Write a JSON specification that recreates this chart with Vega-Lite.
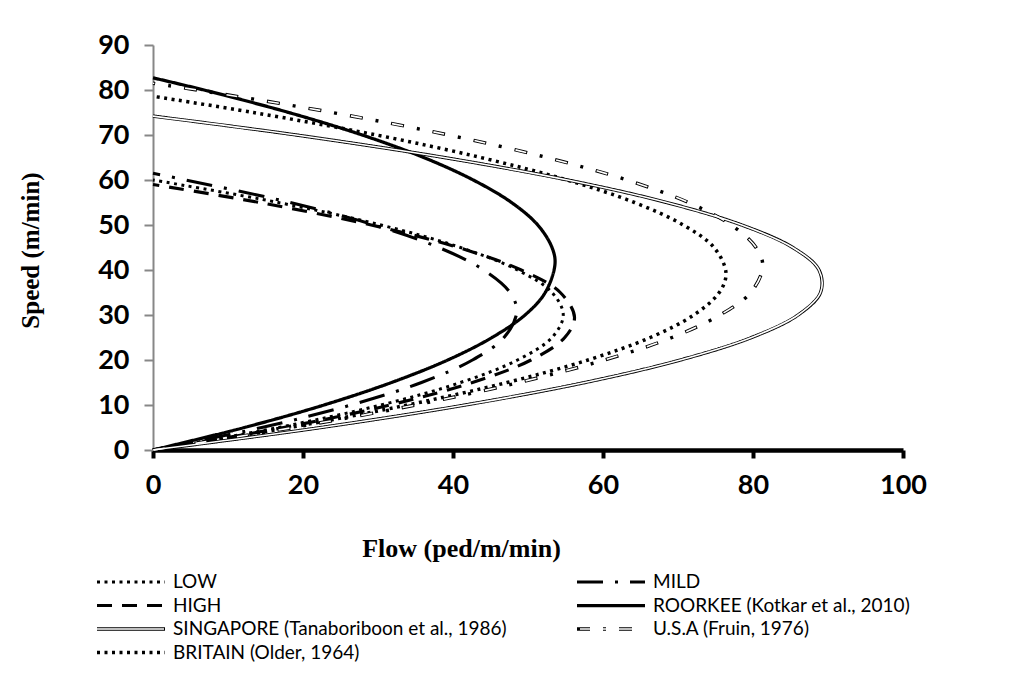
{
  "$schema": "https://vega.github.io/schema/vega-lite/v6.json",
  "width": 750,
  "height": 405,
  "autosize": {"type": "none"},
  "padding": {"left": 153, "top": 45, "right": 107, "bottom": 223},
  "background": "white",
  "config": {"view": {"stroke": null}},
  "data": {"values": [
    {"series": "LOW", "flow": 0, "speed": 0},
    {"series": "LOW", "flow": 16.7, "speed": 5},
    {"series": "LOW", "flow": 30.4, "speed": 10},
    {"series": "LOW", "flow": 41.0, "speed": 15},
    {"series": "LOW", "flow": 48.6, "speed": 20},
    {"series": "LOW", "flow": 53.2, "speed": 25},
    {"series": "LOW", "flow": 54.7, "speed": 30},
    {"series": "LOW", "flow": 53.2, "speed": 35},
    {"series": "LOW", "flow": 48.6, "speed": 40},
    {"series": "LOW", "flow": 41.0, "speed": 45},
    {"series": "LOW", "flow": 30.4, "speed": 50},
    {"series": "LOW", "flow": 16.7, "speed": 55},
    {"series": "LOW", "flow": 0, "speed": 60},
    {"series": "MILD", "flow": 0, "speed": 0},
    {"series": "MILD", "flow": 14.5, "speed": 5},
    {"series": "MILD", "flow": 26.4, "speed": 10},
    {"series": "MILD", "flow": 35.8, "speed": 15},
    {"series": "MILD", "flow": 42.6, "speed": 20},
    {"series": "MILD", "flow": 46.8, "speed": 25},
    {"series": "MILD", "flow": 48.5, "speed": 30.75},
    {"series": "MILD", "flow": 47.6, "speed": 35},
    {"series": "MILD", "flow": 44.1, "speed": 40},
    {"series": "MILD", "flow": 38.1, "speed": 45},
    {"series": "MILD", "flow": 29.5, "speed": 50},
    {"series": "MILD", "flow": 18.3, "speed": 55},
    {"series": "MILD", "flow": 0, "speed": 61.5},
    {"series": "HIGH", "flow": 0, "speed": 0},
    {"series": "HIGH", "flow": 17.4, "speed": 5},
    {"series": "HIGH", "flow": 31.6, "speed": 10},
    {"series": "HIGH", "flow": 42.6, "speed": 15},
    {"series": "HIGH", "flow": 50.4, "speed": 20},
    {"series": "HIGH", "flow": 54.9, "speed": 25},
    {"series": "HIGH", "flow": 56.2, "speed": 29.5},
    {"series": "HIGH", "flow": 54.3, "speed": 35},
    {"series": "HIGH", "flow": 49.1, "speed": 40},
    {"series": "HIGH", "flow": 40.7, "speed": 45},
    {"series": "HIGH", "flow": 29.1, "speed": 50},
    {"series": "HIGH", "flow": 14.2, "speed": 55},
    {"series": "HIGH", "flow": 0, "speed": 59},
    {"series": "ROORKEE (Kotkar et al., 2010)", "flow": 0, "speed": 0},
    {"series": "ROORKEE (Kotkar et al., 2010)", "flow": 12.2, "speed": 5},
    {"series": "ROORKEE (Kotkar et al., 2010)", "flow": 22.8, "speed": 10},
    {"series": "ROORKEE (Kotkar et al., 2010)", "flow": 31.8, "speed": 15},
    {"series": "ROORKEE (Kotkar et al., 2010)", "flow": 39.3, "speed": 20},
    {"series": "ROORKEE (Kotkar et al., 2010)", "flow": 45.2, "speed": 25},
    {"series": "ROORKEE (Kotkar et al., 2010)", "flow": 49.6, "speed": 30},
    {"series": "ROORKEE (Kotkar et al., 2010)", "flow": 52.3, "speed": 35},
    {"series": "ROORKEE (Kotkar et al., 2010)", "flow": 53.6, "speed": 41.35},
    {"series": "ROORKEE (Kotkar et al., 2010)", "flow": 53.2, "speed": 45},
    {"series": "ROORKEE (Kotkar et al., 2010)", "flow": 51.3, "speed": 50},
    {"series": "ROORKEE (Kotkar et al., 2010)", "flow": 47.8, "speed": 55},
    {"series": "ROORKEE (Kotkar et al., 2010)", "flow": 42.7, "speed": 60},
    {"series": "ROORKEE (Kotkar et al., 2010)", "flow": 36.1, "speed": 65},
    {"series": "ROORKEE (Kotkar et al., 2010)", "flow": 27.9, "speed": 70},
    {"series": "ROORKEE (Kotkar et al., 2010)", "flow": 18.1, "speed": 75},
    {"series": "ROORKEE (Kotkar et al., 2010)", "flow": 6.8, "speed": 80},
    {"series": "ROORKEE (Kotkar et al., 2010)", "flow": 0, "speed": 82.7},
    {"series": "SINGAPORE (Tanaboriboon et al., 1986)", "flow": 0, "speed": 0},
    {"series": "SINGAPORE (Tanaboriboon et al., 1986)", "flow": 22.4, "speed": 5},
    {"series": "SINGAPORE (Tanaboriboon et al., 1986)", "flow": 41.6, "speed": 10},
    {"series": "SINGAPORE (Tanaboriboon et al., 1986)", "flow": 57.6, "speed": 15},
    {"series": "SINGAPORE (Tanaboriboon et al., 1986)", "flow": 70.3, "speed": 20},
    {"series": "SINGAPORE (Tanaboriboon et al., 1986)", "flow": 79.8, "speed": 25},
    {"series": "SINGAPORE (Tanaboriboon et al., 1986)", "flow": 86.0, "speed": 30},
    {"series": "SINGAPORE (Tanaboriboon et al., 1986)", "flow": 89.0, "speed": 35},
    {"series": "SINGAPORE (Tanaboriboon et al., 1986)", "flow": 88.8, "speed": 40},
    {"series": "SINGAPORE (Tanaboriboon et al., 1986)", "flow": 85.3, "speed": 45},
    {"series": "SINGAPORE (Tanaboriboon et al., 1986)", "flow": 78.5, "speed": 50},
    {"series": "SINGAPORE (Tanaboriboon et al., 1986)", "flow": 68.5, "speed": 55},
    {"series": "SINGAPORE (Tanaboriboon et al., 1986)", "flow": 55.3, "speed": 60},
    {"series": "SINGAPORE (Tanaboriboon et al., 1986)", "flow": 38.8, "speed": 65},
    {"series": "SINGAPORE (Tanaboriboon et al., 1986)", "flow": 19.1, "speed": 70},
    {"series": "SINGAPORE (Tanaboriboon et al., 1986)", "flow": 0, "speed": 74.2},
    {"series": "U.S.A (Fruin, 1976)", "flow": 0, "speed": 0},
    {"series": "U.S.A (Fruin, 1976)", "flow": 18.7, "speed": 5},
    {"series": "U.S.A (Fruin, 1976)", "flow": 35.0, "speed": 10},
    {"series": "U.S.A (Fruin, 1976)", "flow": 48.8, "speed": 15},
    {"series": "U.S.A (Fruin, 1976)", "flow": 60.2, "speed": 20},
    {"series": "U.S.A (Fruin, 1976)", "flow": 69.2, "speed": 25},
    {"series": "U.S.A (Fruin, 1976)", "flow": 75.6, "speed": 30},
    {"series": "U.S.A (Fruin, 1976)", "flow": 79.7, "speed": 35},
    {"series": "U.S.A (Fruin, 1976)", "flow": 81.3, "speed": 40.75},
    {"series": "U.S.A (Fruin, 1976)", "flow": 80.4, "speed": 45},
    {"series": "U.S.A (Fruin, 1976)", "flow": 77.1, "speed": 50},
    {"series": "U.S.A (Fruin, 1976)", "flow": 71.4, "speed": 55},
    {"series": "U.S.A (Fruin, 1976)", "flow": 63.2, "speed": 60},
    {"series": "U.S.A (Fruin, 1976)", "flow": 52.5, "speed": 65},
    {"series": "U.S.A (Fruin, 1976)", "flow": 39.4, "speed": 70},
    {"series": "U.S.A (Fruin, 1976)", "flow": 23.9, "speed": 75},
    {"series": "U.S.A (Fruin, 1976)", "flow": 5.9, "speed": 80},
    {"series": "U.S.A (Fruin, 1976)", "flow": 0, "speed": 81.5},
    {"series": "BRITAIN (Older, 1964)", "flow": 0, "speed": 0},
    {"series": "BRITAIN (Older, 1964)", "flow": 18.2, "speed": 5},
    {"series": "BRITAIN (Older, 1964)", "flow": 33.9, "speed": 10},
    {"series": "BRITAIN (Older, 1964)", "flow": 47.2, "speed": 15},
    {"series": "BRITAIN (Older, 1964)", "flow": 58.0, "speed": 20},
    {"series": "BRITAIN (Older, 1964)", "flow": 66.3, "speed": 25},
    {"series": "BRITAIN (Older, 1964)", "flow": 72.1, "speed": 30},
    {"series": "BRITAIN (Older, 1964)", "flow": 75.5, "speed": 35},
    {"series": "BRITAIN (Older, 1964)", "flow": 76.4, "speed": 39.3},
    {"series": "BRITAIN (Older, 1964)", "flow": 74.8, "speed": 45},
    {"series": "BRITAIN (Older, 1964)", "flow": 70.7, "speed": 50},
    {"series": "BRITAIN (Older, 1964)", "flow": 64.2, "speed": 55},
    {"series": "BRITAIN (Older, 1964)", "flow": 55.2, "speed": 60},
    {"series": "BRITAIN (Older, 1964)", "flow": 43.7, "speed": 65},
    {"series": "BRITAIN (Older, 1964)", "flow": 29.8, "speed": 70},
    {"series": "BRITAIN (Older, 1964)", "flow": 13.4, "speed": 75},
    {"series": "BRITAIN (Older, 1964)", "flow": 0, "speed": 78.6}
  ]},
  "encoding": {
    "x": {"field": "flow", "type": "quantitative", "scale": {"domain": [0, 100], "nice": false, "zero": true},
      "axis": {"values": [0, 20, 40, 60, 80, 100], "grid": false, "title": "Flow (ped/m/min)",
        "domainColor": "black", "domainWidth": 4.5, "tickColor": "black", "tickWidth": 4, "tickSize": 8,
        "labelFont": "Lato", "labelFontWeight": "bold", "labelFontSize": 27, "labelColor": "black", "labelPadding": 14,
        "labelFlush": false,
        "titleFont": "Liberation Serif", "titleFontWeight": "bold", "titleFontSize": 26, "titleColor": "black",
        "titleX": 308, "titleY": 106, "titleBaseline": "alphabetic"}},
    "y": {"field": "speed", "type": "quantitative", "scale": {"domain": [0, 90], "nice": false},
      "axis": {"values": [0, 10, 20, 30, 40, 50, 60, 70, 80, 90], "grid": false, "title": "Speed (m/min)",
        "domainColor": "#878787", "domainWidth": 2, "tickColor": "#878787", "tickWidth": 2, "tickSize": 9,
        "labelFont": "Lato", "labelFontWeight": "bold", "labelFontSize": 27, "labelColor": "black", "labelPadding": 15,
        "labelFlush": false,
        "titleFont": "Liberation Serif", "titleFontWeight": "bold", "titleFontSize": 25, "titleColor": "black",
        "titleX": -123, "titleY": 205, "titleBaseline": "middle"}}
  },
  "layer": [
    {
      "mark": {"type": "line", "interpolate": "catmull-rom", "color": "black", "clip": false},
      "encoding": {
        "order": {"field": "speed", "type": "quantitative"},
        "strokeDash": {"field": "series", "type": "nominal",
          "scale": {"domain": ["LOW", "MILD", "HIGH", "ROORKEE (Kotkar et al., 2010)", "SINGAPORE (Tanaboriboon et al., 1986)", "U.S.A (Fruin, 1976)", "BRITAIN (Older, 1964)"],
            "range": [[3, 4.5], [26, 12, 3, 12], [15, 10], [1, 0], [1, 0], [13, 13, 3, 13], [3, 4.5]]},
          "legend": {"orient": "none", "legendX": -58, "legendY": 528, "columns": 2, "direction": "horizontal", "title": null,
            "symbolType": "stroke", "symbolSize": 4624, "clipHeight": 18, "rowPadding": 4.5, "columnPadding": 68,
            "symbolStrokeColor": "black",
            "labelFont": "Lato", "labelFontSize": 19, "labelColor": "black", "labelOffset": 6, "labelLimit": 500}
        },
        "strokeWidth": {"field": "series", "type": "nominal",
          "scale": {"domain": ["LOW", "MILD", "HIGH", "ROORKEE (Kotkar et al., 2010)", "SINGAPORE (Tanaboriboon et al., 1986)", "U.S.A (Fruin, 1976)", "BRITAIN (Older, 1964)"],
            "range": [3, 3.5, 3.5, 3.5, 4.2, 4, 3]},
          "legend": {"orient": "none", "legendX": -58, "legendY": 528, "columns": 2, "direction": "horizontal", "title": null,
            "symbolType": "stroke", "symbolSize": 4624, "clipHeight": 18, "rowPadding": 4.5, "columnPadding": 68,
            "symbolStrokeColor": "black",
            "labelFont": "Lato", "labelFontSize": 19, "labelColor": "black", "labelOffset": 6, "labelLimit": 500}
        }
      }
    },
    {
      "transform": [{"filter": "datum.series === 'SINGAPORE (Tanaboriboon et al., 1986)'"}],
      "mark": {"type": "line", "interpolate": "catmull-rom", "strokeWidth": 1.6, "clip": false},
      "encoding": {
        "order": {"field": "speed", "type": "quantitative"},
        "stroke": {"field": "series", "type": "nominal",
          "scale": {"domain": ["BRITAIN (Older, 1964)", "U.S.A (Fruin, 1976)", "SINGAPORE (Tanaboriboon et al., 1986)", "ROORKEE (Kotkar et al., 2010)", "HIGH", "MILD", "LOW"],
            "range": ["transparent", "white", "white", "transparent", "transparent", "transparent", "transparent"]},
          "legend": {"orient": "none", "legendX": -58, "legendY": 528, "columns": 2, "direction": "horizontal", "title": null,
            "values": ["LOW", "MILD", "HIGH", "ROORKEE (Kotkar et al., 2010)", "SINGAPORE (Tanaboriboon et al., 1986)", "U.S.A (Fruin, 1976)", "BRITAIN (Older, 1964)"],
            "symbolType": "stroke", "symbolSize": 4624, "clipHeight": 18, "rowPadding": 4.5, "columnPadding": 408,
            "symbolStrokeWidth": 1.6,
            "labelExpr": "''", "labelFont": "Lato", "labelFontSize": 19, "labelOffset": 6, "labelLimit": 500}
        }
      }
    },
    {
      "transform": [{"filter": "datum.series === 'U.S.A (Fruin, 1976)'"}],
      "mark": {"type": "line", "interpolate": "catmull-rom", "strokeWidth": 1.6, "strokeDash": [0, 1, 11, 30], "clip": false},
      "encoding": {
        "order": {"field": "speed", "type": "quantitative"},
        "stroke": {"field": "series", "type": "nominal",
          "scale": {"domain": ["BRITAIN (Older, 1964)", "U.S.A (Fruin, 1976)", "SINGAPORE (Tanaboriboon et al., 1986)", "ROORKEE (Kotkar et al., 2010)", "HIGH", "MILD", "LOW"],
            "range": ["transparent", "white", "white", "transparent", "transparent", "transparent", "transparent"]},
          "legend": {"orient": "none", "legendX": -58, "legendY": 528, "columns": 2, "direction": "horizontal", "title": null,
            "values": ["LOW", "MILD", "HIGH", "ROORKEE (Kotkar et al., 2010)", "SINGAPORE (Tanaboriboon et al., 1986)", "U.S.A (Fruin, 1976)", "BRITAIN (Older, 1964)"],
            "symbolType": "stroke", "symbolSize": 4624, "clipHeight": 18, "rowPadding": 4.5, "columnPadding": 408,
            "symbolStrokeWidth": 1.6,
            "labelExpr": "''", "labelFont": "Lato", "labelFontSize": 19, "labelOffset": 6, "labelLimit": 500}
        }
      }
    }
  ]
}
